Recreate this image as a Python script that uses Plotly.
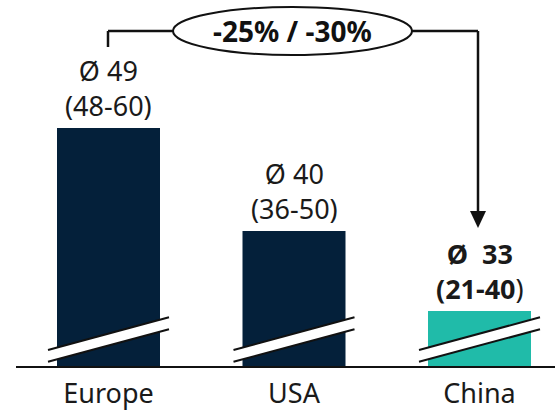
import plotly.graph_objects as go

# ---- data ----
categories = ["Europe", "USA", "China"]
averages = [49, 40, 33]
ranges = ["48-60", "36-50", "21-40"]
highlight = [False, False, True]
change_label = "-25% / -30%"

# ---- styling / layout constants ----
W, H = 555, 411
ML, MR, MT, MB = 16, 0, 0, 45
BREAK = 28.2          # axis break value (bars start here)
PX_PER_UNIT = 11.44   # vertical scale
STEP = 185.5          # px per category
X0_PX = 108.5         # px of first category centre
NAVY = "#04203a"
TEAL = "#20bba9"
FONT = "Noto Sans"

plot_h = H - MT - MB
y_top = BREAK + plot_h / PX_PER_UNIT
x_lo = -(X0_PX - ML) / STEP
x_hi = (W - MR - X0_PX) / STEP


def px2x(px):
    return (px - X0_PX) / STEP


def px2y(py):
    return BREAK + (MT + plot_h - py) / PX_PER_UNIT


colors = [TEAL if h else NAVY for h in highlight]

fig = go.Figure(go.Bar(
    x=list(range(len(categories))),
    y=[v - BREAK for v in averages],
    base=BREAK,
    width=103 / STEP,
    marker=dict(color=colors, line=dict(width=0)),
    hoverinfo="skip",
))

shapes = []
annotations = []
base_px = MT + plot_h
for i, (v, r, hl) in enumerate(zip(averages, ranges, highlight)):
    # value labels
    if hl:
        l1 = "<b>Ø&nbsp; %d</b>" % v
        l2 = "<b>(%s</b>)" % r
    else:
        l1 = "Ø %d" % v
        l2 = "(%s)" % r
    annotations.append(dict(
        x=i, y=v, xref="x", yref="y", text=l1 + "<br>" + l2,
        showarrow=False, yanchor="bottom", yshift=2,
        font=dict(family=FONT, size=27, color="#1a1a1a"),
    ))
    # axis-break marks
    cx = X0_PX + i * STEP
    xl, xr = px2x(cx - 60.5), px2x(cx + 60.5)
    up_l, up_r = px2y(base_px - 16), px2y(base_px - 48.7)
    lo_l, lo_r = px2y(base_px - 4.3), px2y(base_px - 36.7)
    shapes.append(dict(
        type="path", xref="x", yref="y",
        path=f"M {xl} {up_l} L {xr} {up_r} L {xr} {lo_r} L {xl} {lo_l} Z",
        fillcolor="white", line=dict(width=0), layer="above",
    ))
    for (a, b) in [(up_l, up_r), (lo_l, lo_r)]:
        shapes.append(dict(type="line", xref="x", yref="y", x0=xl, y0=a, x1=xr, y1=b,
                           line=dict(color="#111111", width=2), layer="above"))

# ---- bracket with ellipse and arrow ----
lx = px2x(X0_PX - 0.5)
rx = px2x(X0_PX + 2 * STEP - 1.5)
hy = px2y(31)
ell_l, ell_r = px2x(173), px2x(412)
line_style = dict(color="#111111", width=2.5)
shapes += [
    dict(type="line", xref="x", yref="y", x0=lx, x1=lx, y0=px2y(47), y1=hy, line=line_style),
    dict(type="line", xref="x", yref="y", x0=lx, x1=ell_l, y0=hy, y1=hy, line=line_style),
    dict(type="line", xref="x", yref="y", x0=ell_r, x1=rx, y0=hy, y1=hy, line=line_style),
    dict(type="line", xref="x", yref="y", x0=rx, x1=rx, y0=hy, y1=px2y(213), line=line_style),
    dict(type="path", xref="x", yref="y",
         path=f"M {px2x(X0_PX + 2*STEP - 9.5)} {px2y(211)} L {px2x(X0_PX + 2*STEP + 6.5)} {px2y(211)} "
              f"L {rx} {px2y(228)} Z",
         fillcolor="#111111", line=dict(width=0)),
    dict(type="circle", xref="x", yref="y", x0=ell_l, x1=ell_r, y0=px2y(7), y1=px2y(55),
         fillcolor="white", line=dict(color="#111111", width=2)),
]
annotations.append(dict(
    x=(ell_l + ell_r) / 2, y=hy, xref="x", yref="y", text="<b>%s</b>" % change_label,
    showarrow=False, font=dict(family=FONT, size=28, color="#111111"),
))

fig.update_layout(
    width=W, height=H,
    margin=dict(l=ML, r=MR, t=MT, b=MB),
    paper_bgcolor="white", plot_bgcolor="white",
    showlegend=False,
    shapes=shapes, annotations=annotations,
    xaxis=dict(
        range=[x_lo, x_hi], tickmode="array",
        tickvals=list(range(len(categories))), ticktext=categories,
        showgrid=False, zeroline=False, showline=True, linecolor="#111111", linewidth=2,
        ticks="", ticklabelstandoff=3, tickfont=dict(family=FONT, size=27, color="#1a1a1a"),
        fixedrange=True,
    ),
    yaxis=dict(range=[BREAK, y_top], visible=False, showgrid=False, fixedrange=True),
)

fig.write_html("out.html", config={"displayModeBar": False})
